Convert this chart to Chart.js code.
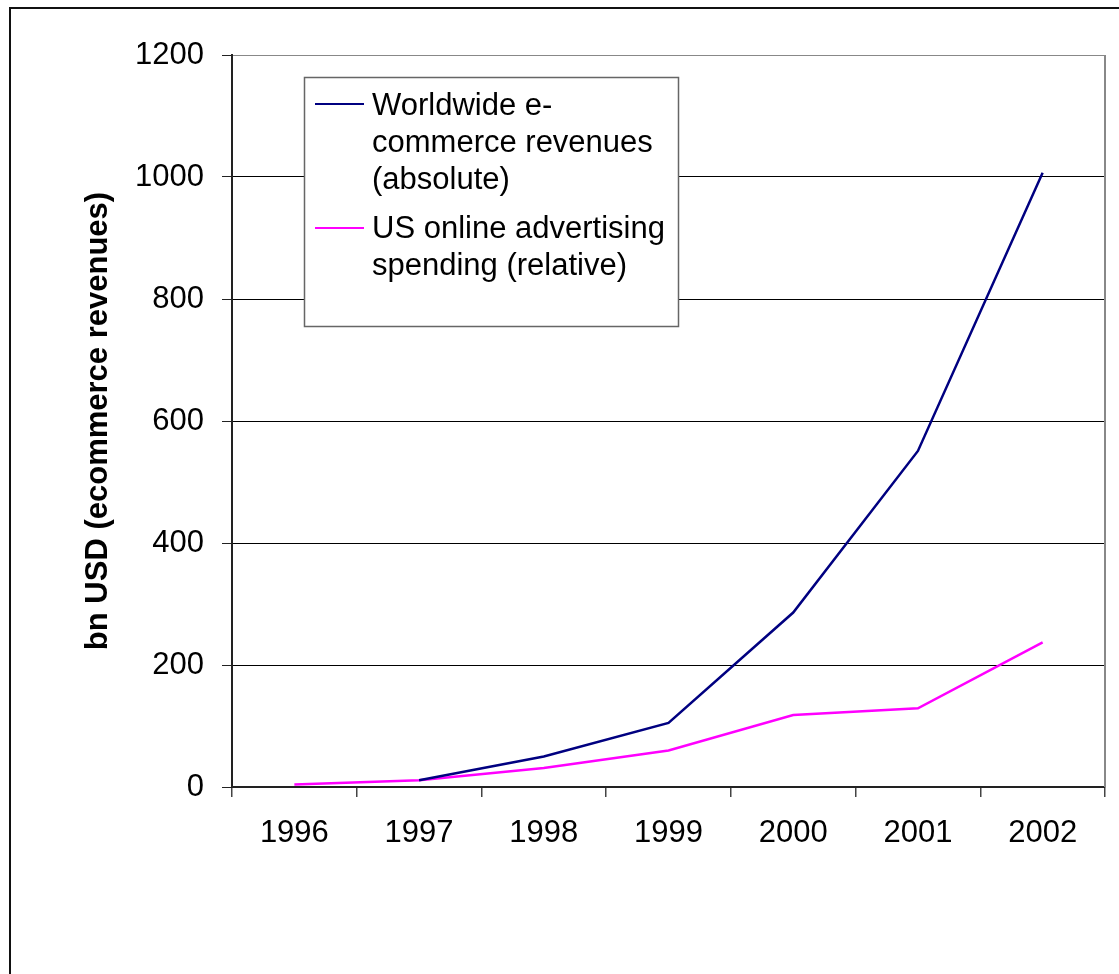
<!DOCTYPE html>
<html>
<head>
<meta charset="utf-8">
<script src="https://cdn.jsdelivr.net/npm/chart.js@4/dist/chart.umd.min.js"></script>
<style>
  html, body { margin: 0; padding: 0; background: #fff; }
  #wrap { position: absolute; left: 0; top: 0; width: 1119px; height: 974px; }
</style>
</head>
<body>
<div id="wrap"><canvas id="grafico" width="1119" height="974"></canvas></div>
<script>
const anos = ['1996', '1997', '1998', '1999', '2000', '2001', '2002'];
const ecommerce = [null, 11, 50, 105, 286, 551, 1007];
const publicidade = [4, 11, 31, 60, 118, 129, 237];
const yTicks = [0, 200, 400, 600, 800, 1000, 1200];

const nomeEcommerce = ['Worldwide e-', 'commerce revenues', '(absolute)'];
const nomePublicidade = ['US online advertising', 'spending (relative)'];
const tituloY = 'bn USD (ecommerce revenues)';

const fonte = '"Liberation Sans", Arial, sans-serif';

// moldura externa, borda do plot e legenda desenhada à mão
const extras = {
  id: 'extras',
  beforeDraw(chart) {
    const ctx = chart.ctx;
    ctx.save();
    ctx.fillStyle = '#fff';
    ctx.fillRect(0, 0, chart.width, chart.height);
    ctx.restore();
  },
  afterDraw(chart) {
    const ctx = chart.ctx;
    const a = chart.chartArea;
    ctx.save();
    // borda externa
    ctx.strokeStyle = '#111';
    ctx.lineWidth = 2;
    ctx.strokeRect(10, 8, 1200, 1000);
    // borda direita do plot
    ctx.strokeStyle = '#888';
    ctx.lineWidth = 2;
    ctx.beginPath();
    ctx.moveTo(a.right, a.top);
    ctx.lineTo(a.right, a.bottom);
    ctx.stroke();

    // legenda
    const lx = 304, ly = 77, lw = 374, lh = 249;
    ctx.fillStyle = '#fff';
    ctx.fillRect(lx, ly, lw, lh);
    ctx.strokeStyle = '#666';
    ctx.lineWidth = 1.5;
    ctx.strokeRect(lx + 0.5, ly + 0.5, lw, lh);

    const cores = chart.data.datasets.map(d => d.borderColor);
    ctx.lineWidth = 2;
    ctx.strokeStyle = cores[0];
    ctx.beginPath(); ctx.moveTo(315, 104); ctx.lineTo(364, 104); ctx.stroke();
    ctx.strokeStyle = cores[1];
    ctx.beginPath(); ctx.moveTo(315, 228); ctx.lineTo(364, 228); ctx.stroke();

    ctx.fillStyle = '#000';
    ctx.font = '31px ' + fonte;
    ctx.textAlign = 'left';
    ctx.textBaseline = 'alphabetic';
    nomeEcommerce.forEach((t, i) => ctx.fillText(t, 372, 115 + i * 37));
    nomePublicidade.forEach((t, i) => ctx.fillText(t, 372, 238 + i * 37));
    ctx.restore();
  }
};

new Chart(document.getElementById('grafico'), {
  type: 'line',
  data: {
    labels: anos,
    datasets: [
      {
        label: nomeEcommerce.join(' '),
        data: ecommerce,
        borderColor: '#000080',
        borderWidth: 2.5,
        pointRadius: 0,
        tension: 0,
        spanGaps: false
      },
      {
        label: nomePublicidade.join(' '),
        data: publicidade,
        borderColor: '#ff00ff',
        borderWidth: 2.5,
        pointRadius: 0,
        tension: 0
      }
    ]
  },
  options: {
    responsive: false,
    animation: false,
    layout: { padding: { top: 55, right: 14, left: 0, bottom: 0 } },
    plugins: {
      legend: { display: false },
      tooltip: { enabled: false }
    },
    scales: {
      x: {
        offset: true,
        grid: {
          offset: true,
          drawOnChartArea: false,
          drawTicks: true,
          tickLength: 10,
          color: '#444',
          lineWidth: 1.5
        },
        border: { color: '#222', width: 2 },
        ticks: {
          color: '#000',
          font: { family: fonte, size: 31 },
          padding: 18,
          maxRotation: 0,
          autoSkip: false
        },
        afterFit: s => { s.height = 187; }
      },
      y: {
        min: 0,
        max: 1200,
        afterBuildTicks: s => { s.ticks = yTicks.map(v => ({ value: v })); },
        grid: {
          color: ctx => ctx.tick && ctx.tick.value === 1200 ? '#888' : '#000',
          lineWidth: 1,
          tickLength: 10,
          tickColor: '#222'
        },
        border: { color: '#222', width: 2 },
        ticks: {
          color: '#000',
          font: { family: fonte, size: 31 },
          padding: 18,
          callback: v => String(v)
        },
        title: {
          display: true,
          text: tituloY,
          color: '#000',
          font: { family: fonte, size: 31, weight: 'bold' },
          padding: { top: 80, bottom: 0 }
        },
        afterFit: s => { s.width = 232; }
      }
    }
  },
  plugins: [extras]
});
</script>
</body>
</html>
